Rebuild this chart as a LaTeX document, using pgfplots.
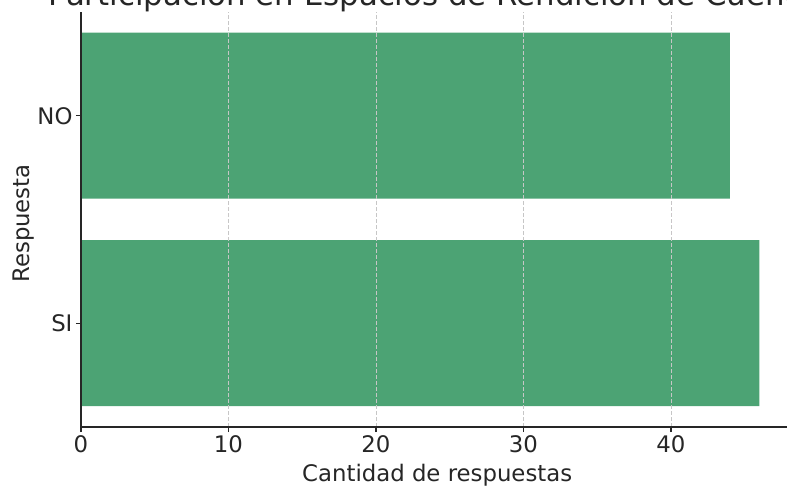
\documentclass[border=0pt]{standalone}
\usepackage{fontspec}
\setmainfont{DejaVu Sans}
\usepackage{pgfplots}
\pgfplotsset{compat=1.18}

\definecolor{barc}{RGB}{76,163,116}
\definecolor{txt}{RGB}{38,38,38}

\begin{document}
\begin{tikzpicture}
\begin{axis}[
    scale only axis,
    width=712.4pt, height=415pt,
    xbar, bar width=0.8,
    xmin=0, xmax=48.3,
    ymin=-0.5, ymax=1.5,
    ytick={0,1}, yticklabels={SI,NO},
    xtick={0,10,20,30,40},
    axis x line*=bottom, axis y line*=left,
    axis line style={txt, line width=1.4pt, -},
    tick style={txt, line width=1.4pt},
    tick align=outside,
    major tick length=5pt,
    xmajorgrids,
    grid style={dashed, gray!45, line width=0.9pt, dash pattern=on 4pt off 2pt},
    axis on top,
    /pgf/number format/assume math mode=true,
    every tick label/.append style={font=\fontsize{22.8}{27}\selectfont, text=txt},
    xlabel={Cantidad de respuestas},
    ylabel={Respuesta},
    label style={font=\fontsize{22.8}{27}\selectfont, text=txt},
    xlabel style={yshift=-5pt},
    ylabel style={yshift=-4pt, xshift=-4pt},
    title={Participación en Espacios de Rendición de Cuentas},
    title style={font=\fontsize{30.8}{36}\selectfont, text=txt, at={(0.5,1)}, anchor=base, xshift=3pt},
]
\addplot[fill=barc, draw=none] coordinates {(46,0) (44,1)};
\coordinate (o) at (axis description cs:0,0);
\end{axis}
\pgfresetboundingbox
\useasboundingbox ([shift={(-81pt,-60pt)}]o) rectangle ([shift={(706pt,427pt)}]o);
\end{tikzpicture}
\end{document}
